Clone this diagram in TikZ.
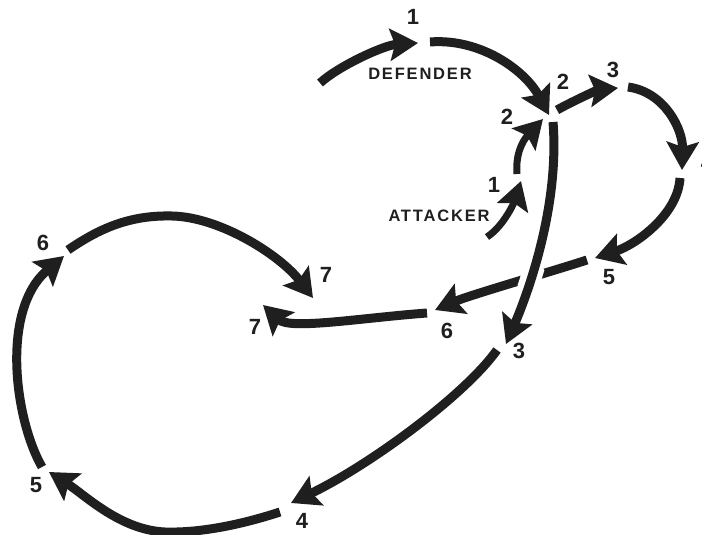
\documentclass[tikz,border=0pt]{standalone}
\usepackage{fontspec}
\setsansfont{Liberation Sans}
\usepackage{xcolor}
\usepackage{tikz}
\usetikzlibrary{arrows.meta}
\definecolor{ink}{HTML}{1F1F1F}

\tikzset{
  move/.style={draw=ink, line width=9pt, -{Stealth[length=28pt,width=32pt,inset=5pt]}},
  thinmove/.style={move, line width=7pt},
  num/.style={text=ink, inner sep=0pt, font=\sffamily\bfseries\fontsize{22}{22}\selectfont},
  side/.style={text=ink, inner sep=0pt, font=\sffamily\bfseries\fontsize{16.5}{16.5}\selectfont\addfontfeature{LetterSpace=11}}
}

\begin{document}
\begin{tikzpicture}[x=1pt,y=-1pt]
  \useasboundingbox[fill=white] (0,0) rectangle (702,535);

  % defender track
  \coordinate (d0) at (320,83);
  \coordinate (d1) at (418,43);  \coordinate (d1b) at (430,42);
  \coordinate (d2) at (549,115); \coordinate (d2b) at (557,110);
  \coordinate (d3) at (618,88);  \coordinate (d3b) at (628,87);
  \coordinate (d4) at (682,170); \coordinate (d4b) at (680,178);
  \coordinate (d5) at (595,258); \coordinate (d5b) at (587,260);
  \coordinate (d6) at (435,310); \coordinate (d6b) at (427,313);
  \coordinate (d7) at (263,305);

  % attacker track
  \coordinate (a0) at (487,237);
  \coordinate (a1) at (521,181); \coordinate (a1b) at (517,174);
  \coordinate (a2) at (543,119); \coordinate (a2b) at (553,122);
  \coordinate (a3) at (506,344); \coordinate (a3b) at (497,350);
  \coordinate (a4) at (291,503); \coordinate (a4b) at (280,512);
  \coordinate (a5) at (49,472);  \coordinate (a5b) at (42,467);
  \coordinate (a6) at (64,256);  \coordinate (a6b) at (68,250);
  \coordinate (a7) at (313,298);

  \draw[move] (d0) .. controls (340,65) and (385,45) .. (d1);
  \draw[move] (d1b) .. controls (480,38) and (525,70) .. (d2);
  \draw[move] (d2b) .. controls (575,100) and (598,90) .. (d3);
  \draw[move] (d3b) .. controls (665,92) and (683,130) .. (d4);
  \draw[move] (d4b) .. controls (678,215) and (635,245) .. (d5);
  \draw[move] (d5b) .. controls (550,272) and (470,295) .. (d6);
  \draw[move] (d6b) .. controls (360,318) and (290,330) .. (d7);

  \draw[thinmove] (a0) .. controls (505,225) and (515,200) .. (a1);
  \draw[thinmove] (a1b) .. controls (515,150) and (526,137) .. (a2);
  % white gap where 2-3 passes over 5-6
  \begin{scope}
    \clip (533,281) circle (16);
    \draw[white, line width=21pt] (a2b) .. controls (560,210) and (525,300) .. (a3);
  \end{scope}
  \draw[move] (a2b) .. controls (560,210) and (525,300) .. (a3);
  \draw[move] (a3b) .. controls (465,395) and (370,465) .. (a4);
  \draw[move] (a4b) .. controls (240,525) and (200,533) .. (165,532)
                    .. controls (120,530) and (85,495) .. (a5);
  \draw[move] (a5b) .. controls (15,420) and (0,310) .. (a6);
  \draw[move] (a6b) .. controls (100,228) and (130,215) .. (172,216)
                    .. controls (220,217) and (280,255) .. (a7);

  % move numbers
  \node[num] (n1d) at (413,17) {1};
  \node[num] (n2d) at (563,82) {2};
  \node[num] (n3d) at (613,70) {3};
  \node[num] (n4d) at (707,163) {4};
  \node[num] (n5d) at (609,277) {5};
  \node[num] (n6d) at (447,331) {6};
  \node[num] (n7d) at (255,327) {7};

  \node[num] (n1a) at (494,185) {1};
  \node[num] (n2a) at (507,117) {2};
  \node[num] (n3a) at (519,351) {3};
  \node[num] (n4a) at (302,521) {4};
  \node[num] (n5a) at (36,485) {5};
  \node[num] (n6a) at (43,243) {6};
  \node[num] (n7a) at (326,275) {7};

  \node[side] (def) at (420,74) {DEFENDER};
  \node[side] (att) at (439,216) {ATTACKER};
\end{tikzpicture}
\end{document}
